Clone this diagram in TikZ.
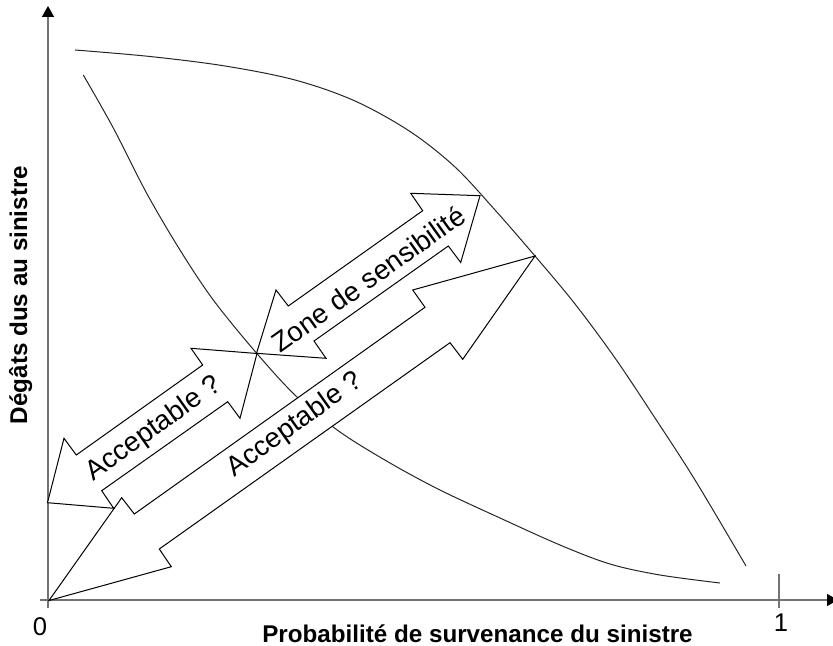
\documentclass[tikz,border=0pt]{standalone}
\usepackage{fontspec}
\setmainfont{Liberation Sans}
\usetikzlibrary{arrows.meta,positioning}
\tikzstyle{axis}=[draw=black!55,line width=0.65pt,-{Triangle[length=5.5pt,width=6pt,color=black]}]
\tikzstyle{curve}=[line width=0.5pt,black!85]
\tikzstyle{fatarrow}=[draw,fill=white,line width=0.5pt,line join=miter]
\tikzstyle{arrowtext}=[font=\fontsize{13.8}{15}\selectfont,rotate=35.4,inner sep=0pt]
\tikzstyle{axislabel}=[font=\fontsize{12.1}{14}\selectfont\bfseries,inner sep=0pt]
\tikzstyle{digit}=[font=\fontsize{12.8}{14}\selectfont,inner sep=0pt,anchor=base]

\begin{document}
\begin{tikzpicture}[x=0.5pt,y=-0.5pt]
\useasboundingbox (0,0) rectangle (833,646);
% axes
\coordinate (xstart) at (40,600);
\coordinate (xend) at (838,600);
\coordinate (ystart) at (48,608);
\coordinate (yend) at (48,6);
\coordinate (tick) at (779,600);
\draw[axis] (xstart) -- (xend);
\draw[axis] (ystart) -- (yend);
\draw[draw=black!55,line width=0.65pt] (tick) ++(0,-26) -- ++(0,34);
\node[digit] (zero) at (40,635) {0};
\node[digit] (one) at (781,631) {1};
\node[axislabel,anchor=base] (xlabel) at (477.5,642) {Probabilité de survenance du sinistre};
\node[axislabel,anchor=base,rotate=90] (ylabel) at (27,295) {Dégâts dus au sinistre};

% the two curves
\draw[curve] plot[smooth,tension=0.55] coordinates {(75,50) (150,56.5) (225,66) (295,80) (355,101)
  (410,131.5) (455,167) (495,210) (535,256) (575,304) (615,358) (655,418) (695,480) (746,566)};
\draw[curve] plot[smooth,tension=0.55] coordinates {(83.3,75) (113.3,128) (146.7,193.3) (180,250)
  (213.3,300) (256.7,353.3) (297,397) (340,432) (390,463) (440,490) (500,518) (560,545)
  (610,564) (660,575) (720,583)};

% fat double arrows
\draw[fatarrow] (49,600.5) -- (121.7,497.7) -- (134.3,514) -- (425,307.3) -- (412.7,290)
  -- (535,256) -- (462.7,359.3) -- (450,342.7) -- (159.3,549) -- (171.3,566.7) -- cycle;
\draw[fatarrow] (47.5,502.7) -- (64,438.3) -- (76.3,455) -- (202.7,365) -- (191,348.3)
  -- (257,353.5) -- (240,418.3) -- (227.7,401.7) -- (101.7,490.7) -- (113.7,508.3) -- cycle;
\draw[fatarrow] (256.5,353.3) -- (276,290) -- (288.3,306) -- (422.7,210.7) -- (410.7,193.3)
  -- (480,195.7) -- (460.7,262.5) -- (448.3,246) -- (314,341) -- (326,358.3) -- cycle;

\node[arrowtext] (accsmall) at (154,429) {Acceptable ?};
\node[arrowtext] (accbig) at (295,425) {Acceptable ?};
\node[arrowtext] (zone) at (368,279) {Zone de sensibilité};
\end{tikzpicture}
\end{document}
